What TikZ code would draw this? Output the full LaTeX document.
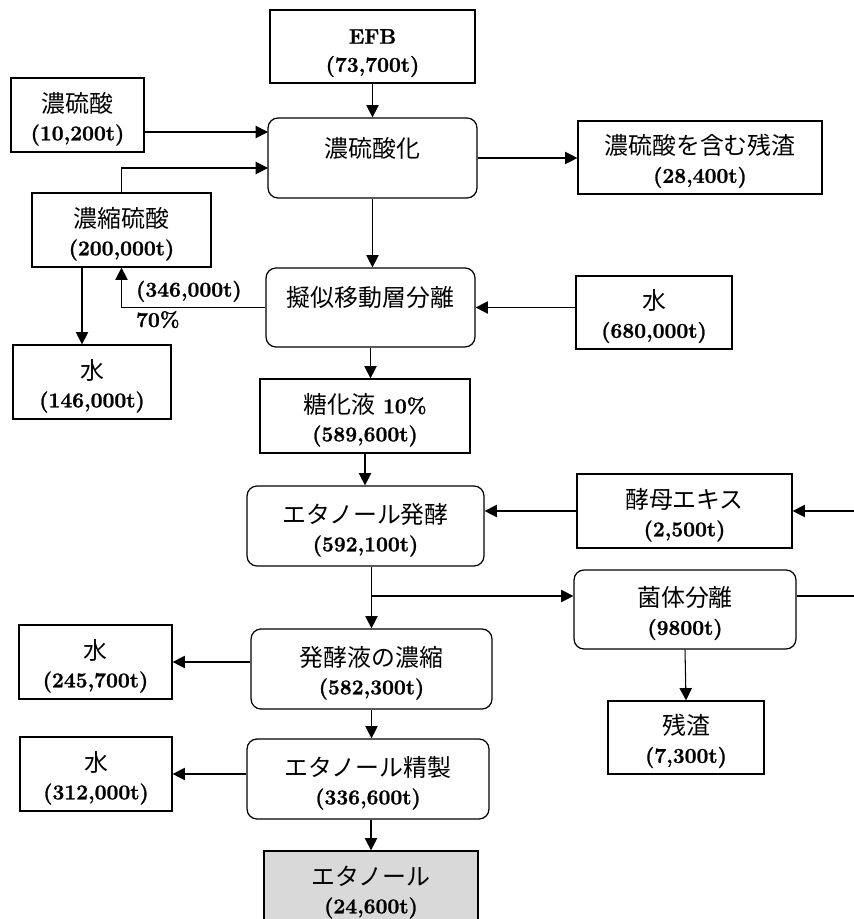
\documentclass[tikz,border=0pt]{standalone}
\usepackage{fontspec}
\setmainfont{Latin Modern Roman}[BoldFeatures={FakeBold=1.2}]
\newfontfamily\jpfont{Noto Sans CJK JP}
\newcommand{\jtxt}[1]{{\jpfont\mdseries\fontsize{13.6}{16}\selectfont #1}}
\newcommand{\lbl}[2]{\rule{0pt}{16pt}#1\\#2\rule[-3.2pt]{0pt}{3.2pt}}
\usetikzlibrary{arrows.meta}
\begin{document}
\begin{tikzpicture}[x=0.02cm,y=-0.02cm,
  font=\fontsize{12}{16}\selectfont\bfseries,
  blk/.style={draw,line width=0.7pt,align=center,inner sep=0pt},
  proc/.style={blk,rounded corners=0.2cm},
  arr/.style={line width=0.6pt,-{Triangle[length=7pt,width=7pt]}}]
\useasboundingbox (0,0) rectangle (854,919);
\clip (0,0) rectangle (854,919);

\node[blk,minimum width=4.10cm,minimum height=1.46cm] (efb) at (372.5,46.5) {\lbl{EFB}{(73,700t)}};
\node[blk,minimum width=2.66cm,minimum height=1.48cm] (acid) at (77.5,115) {\lbl{\jtxt{濃硫酸}}{(10,200t)}};
\node[proc,minimum width=4.18cm,minimum height=1.60cm] (sulf) at (372.5,158) {\jtxt{濃硫酸化}\\[-4pt]~};
\node[blk,minimum width=4.88cm,minimum height=1.46cm] (resA) at (700,157.5) {\lbl{\jtxt{濃硫酸を含む残渣}}{(28,400t)}};
\node[blk,minimum width=3.58cm,minimum height=1.48cm] (conc) at (121.5,230) {\lbl{\jtxt{濃縮硫酸}}{(200,000t)}};
\node[proc,minimum width=4.18cm,minimum height=1.58cm] (smb) at (370.5,307.5) {\jtxt{擬似移動層分離}\\[-4pt]~};
\node[blk,minimum width=3.12cm,minimum height=1.46cm] (wtrA) at (654,312.5) {\lbl{\jtxt{水}}{(680,000t)}};
\node[blk,minimum width=3.16cm,minimum height=1.48cm] (wtrB) at (92,382) {\lbl{\jtxt{水}}{(146,000t)}};
\node[blk,minimum width=4.20cm,minimum height=1.48cm] (sacch) at (365,416) {\lbl{\jtxt{糖化液} 10\%}{(589,600t)}};
\node[proc,minimum width=4.74cm,minimum height=1.60cm] (ferm) at (365.5,526) {\lbl{\jtxt{エタノール発酵}}{(592,100t)}};
\node[blk,minimum width=4.30cm,minimum height=1.48cm] (yeast) at (684.5,511) {\lbl{\jtxt{酵母エキス}}{(2,500t)}};
\node[proc,minimum width=4.44cm,minimum height=1.58cm] (cell) at (685,609.5) {\lbl{\jtxt{菌体分離}}{(9800t)}};
\node[blk,minimum width=3.12cm,minimum height=1.46cm] (resB) at (686,737.5) {\lbl{\jtxt{残渣}}{(7,300t)}};
\node[proc,minimum width=4.82cm,minimum height=1.60cm] (evap) at (371.5,669) {\lbl{\jtxt{発酵液の濃縮}}{(582,300t)}};
\node[blk,minimum width=3.06cm,minimum height=1.48cm] (wtrC) at (95.5,662) {\lbl{\jtxt{水}}{(245,700t)}};
\node[proc,minimum width=4.84cm,minimum height=1.60cm] (purif) at (368,779) {\lbl{\jtxt{エタノール精製}}{(336,600t)}};
\node[blk,minimum width=3.04cm,minimum height=1.48cm] (wtrD) at (96,774) {\lbl{\jtxt{水}}{(312,000t)}};
\node[blk,fill=black!15,minimum width=4.28cm,minimum height=1.48cm] (eth) at (371,888) {\lbl{\jtxt{エタノール}}{(24,600t)}};

% recycle labels
\node[anchor=south west,inner sep=1pt] (rcyA) at (134,304) {(346,000t)};
\node[anchor=north west,inner sep=1pt] (rcyB) at (134,309) {70\%};

\coordinate (inA) at (268,132);
\coordinate (inB) at (268,168);
\coordinate (dwn) at (82,0);
\coordinate (br) at (371.5,596);
\coordinate (rt) at (880,560);

\draw[arr] (efb) -- (sulf);
\draw[arr] (acid.east |- inA) -- (inA);
\draw[arr] (conc.north) |- (inB);
\draw[arr] (sulf.east) -- (sulf.east -| resA.west);
\draw[arr] (sulf.south) -- (sulf.south |- smb.north);
\draw[arr] (smb.west) -| (conc.south);
\draw[arr] (conc.south -| dwn) -- (wtrB.north -| dwn);
\draw[arr] (wtrA.west |- smb.east) -- (smb.east);
\draw[arr] (smb.south) -- (smb.south |- sacch.north);
\draw[arr] (sacch.south) -- (sacch.south |- ferm.north);
\draw[arr] (yeast.west) -- (yeast.west -| ferm.east);
\draw[arr] (evap.north |- ferm.south) -- (evap.north);
\draw[arr] (br) -- (br -| cell.west);
\draw[arr] (cell.east |- br) -| (rt) |- (yeast.east);
\draw[arr] (cell.south) -- (resB.north);
\draw[arr] (evap.west |- wtrC.east) -- (wtrC.east);
\draw[arr] (evap.south) -- (evap.south |- purif.north);
\draw[arr] (purif.west |- wtrD.east) -- (wtrD.east);
\draw[arr] (purif.south -| eth.north) -- (eth.north);
\end{tikzpicture}
\end{document}
